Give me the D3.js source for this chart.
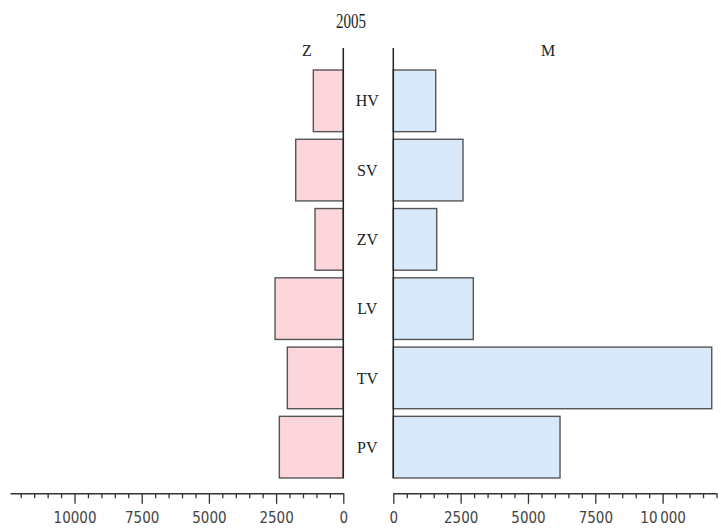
<!DOCTYPE html>
<html>
<head>
<meta charset="utf-8">
<script src="https://cdn.jsdelivr.net/npm/d3@7"></script>
<style>
  html, body { margin: 0; padding: 0; background: #fff; }
  svg { display: block; }
</style>
</head>
<body>
<svg id="chart" width="721" height="528"></svg>
<script>
// ---- data ----
const title = "2005";
const categories = ["HV", "SV", "ZV", "LV", "TV", "PV"];
const seriesNames = ["Z", "M"];
const valuesZ = [1115, 1770, 1052, 2539, 2082, 2379];
const valuesM = [1574, 2588, 1612, 2971, 11823, 6190];
const majorTicks = [0, 2500, 5000, 7500, 10000];
const leftTickLabels = ["0", "2500", "5000", "7500", "10000"];
const rightTickLabels = ["0", "2500", "5000", "7500", "10\u2009000"];

// ---- layout ----
const svg = d3.select("#chart");
const leftZero = 343.3, rightZero = 393.3;
const axisY = 493.3;
const xL = d3.scaleLinear().domain([0, 12400]).range([leftZero, 10]);
const xR = d3.scaleLinear().domain([0, 12000]).range([rightZero, 716.5]);
const y = d3.scaleBand().domain(categories).range([66.2, 481.8])
  .paddingInner(0.11).paddingOuter(0.055);

const pink = "#fcd6da", blue = "#d9e9fa", edge = "#555";

// bars
svg.append("g").selectAll("rect").data(categories).join("rect")
  .attr("x", (d, i) => xL(valuesZ[i]))
  .attr("y", d => y(d))
  .attr("width", (d, i) => leftZero - xL(valuesZ[i]))
  .attr("height", y.bandwidth())
  .attr("fill", pink).attr("stroke", edge).attr("stroke-width", 1.4);

svg.append("g").selectAll("rect").data(categories).join("rect")
  .attr("x", rightZero)
  .attr("y", d => y(d))
  .attr("width", (d, i) => xR(valuesM[i]) - rightZero)
  .attr("height", y.bandwidth())
  .attr("fill", blue).attr("stroke", edge).attr("stroke-width", 1.4);

// vertical axes lines
[leftZero, rightZero].forEach(x => {
  svg.append("line").attr("x1", x).attr("x2", x).attr("y1", 48).attr("y2", 478)
    .attr("stroke", "#222").attr("stroke-width", 1.5);
});

// category labels
svg.append("g").selectAll("text").data(categories).join("text")
  .attr("x", (leftZero + rightZero) / 2 - 1)
  .attr("y", d => y(d) + y.bandwidth() / 2)
  .attr("dy", "0.35em")
  .attr("text-anchor", "middle")
  .attr("font-family", "'Liberation Serif', serif")
  .attr("font-size", 16)
  .attr("fill", "#222")
  .text(d => d);

// title and series names
svg.append("text").attr("x", 351).attr("y", 28).attr("text-anchor", "middle")
  .attr("font-family", "'Liberation Serif', serif").attr("font-size", 20)
  .attr("textLength", 30).attr("lengthAdjust", "spacingAndGlyphs")
  .attr("fill", "#222").text(title);
svg.append("text").attr("x", 307).attr("y", 56).attr("text-anchor", "middle")
  .attr("font-family", "'Liberation Serif', serif").attr("font-size", 16)
  .attr("fill", "#222").text(seriesNames[0]);
svg.append("text").attr("x", 548).attr("y", 56).attr("text-anchor", "middle")
  .attr("font-family", "'Liberation Serif', serif").attr("font-size", 16)
  .attr("fill", "#222").text(seriesNames[1]);

// x axes
function drawAxis(scale, labels, maxMinor) {
  const minor = d3.range(0, maxMinor + 1, 500);
  const ax = d3.axisBottom(scale)
    .tickValues(minor)
    .tickSize(5)
    .tickSizeOuter(0)
    .tickFormat(d => {
      const k = majorTicks.indexOf(d);
      return k >= 0 ? labels[k] : "";
    });
  const g = svg.append("g").attr("transform", `translate(0,${axisY})`).call(ax);
  g.select(".domain").attr("stroke", "#333").attr("stroke-width", 1.6);
  g.selectAll(".tick line")
    .attr("stroke", "#333").attr("stroke-width", 1.3)
    .attr("y2", d => majorTicks.includes(d) ? 10.5 : 5);
  g.selectAll(".tick text")
    .attr("y", 19).attr("dy", "0.71em")
    .attr("font-family", "'DejaVu Sans Condensed', 'DejaVu Sans', sans-serif")
    .attr("font-stretch", "condensed")
    .attr("font-size", 15).attr("fill", "#444");
  return g;
}
drawAxis(xL, leftTickLabels, 12000);
drawAxis(xR, rightTickLabels, 12000);
</script>
</body>
</html>
